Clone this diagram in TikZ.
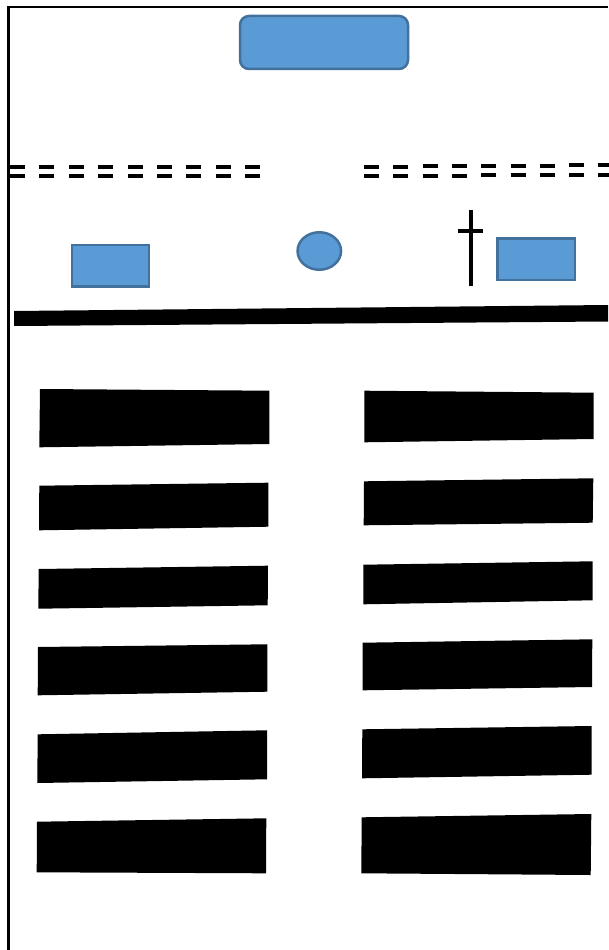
\documentclass[tikz,border=0pt]{standalone}
\usetikzlibrary{shapes.geometric}

\definecolor{fillblue}{HTML}{5B9BD5}
\definecolor{edgeblue}{HTML}{41719C}

\tikzset{
  furniture/.style={draw=edgeblue, fill=fillblue, line width=2.5pt, inner sep=0pt},
  bench/.style={fill=black},
  rail/.style={line width=4pt}
}

\begin{document}
\begin{tikzpicture}[x=1pt, y=-1pt]
  \useasboundingbox (0,0) rectangle (608,950);

  % Outer wall
  \draw[line width=2.5pt] (8.5,950) -- (8.5,7) -- (608,7);

  % Altar
  \node[furniture, rounded corners=9pt, minimum width=168pt, minimum height=53pt] (altar) at (324,42.5) {};

  % Double dashed rails
  \foreach \i in {0,...,8} {
    \draw[rail] ({10+29.4*\i},166.7) -- ++(15,0);
    \draw[rail] ({10+29.4*\i},176) -- ++(15,0);
    \draw[rail] ({364+29.3*\i},{166.7-0.2*\i}) -- ++(15,0);
    \draw[rail] ({364+29.3*\i},{176.2-0.2*\i}) -- ++(15,0);
  }

  % Lectern, font and pulpit
  \node[furniture, minimum width=77pt, minimum height=41.5pt] (lectern) at (110.3,265.7) {};
  \node[furniture, ellipse, minimum width=43.5pt, minimum height=37.5pt] (font) at (319.3,251) {};
  \node[furniture, minimum width=77.5pt, minimum height=41.5pt] (pulpit) at (536,259) {};

  % Cross
  \draw[line width=4pt] (471,210) -- (471,286);
  \draw[line width=4pt] (458,231) -- (483,231);

  % Chancel step
  \fill (14,311) -- (608,305) -- (608,321.5) -- (14,326) -- cycle;

  % Pews, left side
  \fill[bench] (40,389) -- (269.3,390.7) -- (269.3,444) -- (39.3,447.3) -- cycle;
  \fill[bench] (39.3,485.7) -- (268.3,482.7) -- (268.3,526.7) -- (39,530.3) -- cycle;
  \fill[bench] (38.7,569) -- (268,565.7) -- (267.7,605.3) -- (38.3,608.7) -- cycle;
  \fill[bench] (38,647) -- (267.3,644.3) -- (267.3,691.7) -- (37.7,695.3) -- cycle;
  \fill[bench] (37.7,734.3) -- (267,730.3) -- (267,779.3) -- (37.3,783) -- cycle;
  \fill[bench] (37,821.7) -- (266.3,818.3) -- (266,873.3) -- (36.7,872.3) -- cycle;

  % Pews, right side
  \fill[bench] (364.3,390.7) -- (593.7,392.7) -- (593.7,439) -- (364.3,442.3) -- cycle;
  \fill[bench] (364,481.3) -- (593.3,478.3) -- (592.7,522.7) -- (363.7,525.3) -- cycle;
  \fill[bench] (363.3,564.7) -- (592.7,561.3) -- (592.7,600.3) -- (363.3,604.3) -- cycle;
  \fill[bench] (362.7,642.7) -- (592.3,639.3) -- (592,687) -- (362.7,690.3) -- cycle;
  \fill[bench] (362.3,729.3) -- (591.7,726) -- (591.7,774.7) -- (362,778.3) -- cycle;
  \fill[bench] (361.7,817.3) -- (591.3,814) -- (590.7,875) -- (361.3,873.3) -- cycle;
\end{tikzpicture}
\end{document}
